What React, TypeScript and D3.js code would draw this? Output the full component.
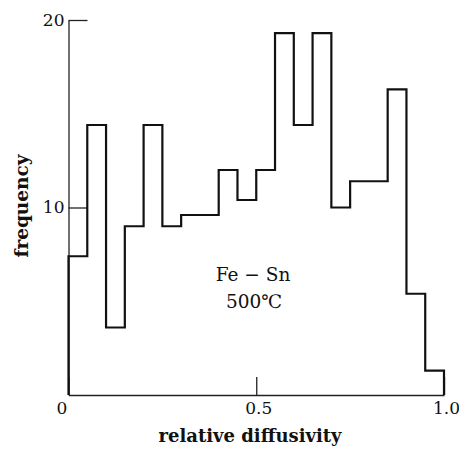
import React, { useEffect, useRef } from "react";
import * as d3 from "d3";

// bin left edges (relative diffusivity), width 0.05
const binStarts = [
  0, 0.05, 0.1, 0.15, 0.2, 0.25, 0.3, 0.35, 0.4, 0.45,
  0.5, 0.55, 0.6, 0.65, 0.7, 0.75, 0.8, 0.85, 0.9, 0.95,
];
const frequency = [
  7.4, 14.4, 3.6, 9.0, 14.4, 9.0, 9.6, 9.6, 12.0, 10.4,
  12.0, 19.3, 14.4, 19.3, 10.0, 11.4, 11.4, 16.3, 5.4, 1.3,
];
const xTicks = [0, 0.5, 1.0];
const xTickLabels = ["0", "0.5", "1.0"];
const yTicks = [10, 20];
const binWidth = 0.05;

const App = () => {
  const svgRef = useRef<SVGSVGElement>(null);

  useEffect(() => {
    const width = 459;
    const height = 450;
    const svg = d3.select(svgRef.current);
    svg.selectAll("*").remove();

    const x = d3.scaleLinear().domain([0, 1]).range([68.5, 444]);
    const y = d3.scaleLinear().domain([0, 20]).range([395, 20]);
    const font = "'DejaVu Serif', 'Liberation Serif', serif";

    // y axis, ticks pointing inward
    const yAxis = svg
      .append("g")
      .attr("transform", `translate(${x(0)},0)`)
      .call(
        d3.axisLeft(y).tickValues(yTicks).tickSize(-19).tickSizeOuter(0).tickPadding(4)
      );
    yAxis.select(".domain").attr("stroke", "#222").attr("stroke-width", 1.3);
    yAxis.selectAll(".tick line").attr("stroke", "#222").attr("stroke-width", 1.3);
    yAxis
      .selectAll(".tick text")
      .attr("font-family", font)
      .attr("font-size", 17)
      .attr("fill", "#111");

    // x axis, ticks pointing up
    const xAxis = svg
      .append("g")
      .attr("transform", `translate(0,${y(0)})`)
      .call(
        d3
          .axisBottom(x)
          .tickValues(xTicks)
          .tickSize(-18)
          .tickSizeOuter(0)
          .tickPadding(7)
          .tickFormat((d, i) => xTickLabels[i])
      );
    xAxis.select(".domain").attr("stroke", "#222").attr("stroke-width", 1.3);
    xAxis.selectAll(".tick line").attr("stroke", "#222").attr("stroke-width", 1.3);
    xAxis
      .selectAll(".tick text")
      .attr("font-family", font)
      .attr("font-size", 17)
      .attr("fill", "#111")
      .attr("dx", (d, i) => (i === 0 ? -7 : 2));

    // histogram outline
    const pts: [number, number][] = [[0, 0]];
    binStarts.forEach((b, i) => pts.push([b, frequency[i]]));
    const last = binStarts.length - 1;
    pts.push([binStarts[last] + binWidth, frequency[last]]);
    pts.push([binStarts[last] + binWidth, 0]);

    const line = d3
      .line<[number, number]>()
      .x((d) => x(d[0]))
      .y((d) => y(d[1]))
      .curve(d3.curveStepAfter);

    svg
      .append("path")
      .attr("d", line(pts))
      .attr("fill", "none")
      .attr("stroke", "#111")
      .attr("stroke-width", 2.2)
      .attr("stroke-linejoin", "miter");

    // annotation
    const ann = svg
      .append("text")
      .attr("font-family", font)
      .attr("font-size", 18.5)
      .attr("fill", "#111")
      .attr("text-anchor", "middle");
    ann.append("tspan").attr("x", 253).attr("y", 281).text("Fe − Sn");
    ann.append("tspan").attr("x", 254).attr("y", 308).text("500℃");

    // axis titles
    svg
      .append("text")
      .attr("x", 250)
      .attr("y", 442)
      .attr("text-anchor", "middle")
      .attr("font-family", font)
      .attr("font-size", 18)
      .attr("font-weight", 600)
      .attr("fill", "#111")
      .text("relative diffusivity");

    svg
      .append("text")
      .attr("transform", `translate(28,206) rotate(-90)`)
      .attr("text-anchor", "middle")
      .attr("font-family", font)
      .attr("font-size", 18.5)
      .attr("font-weight", 600)
      .attr("fill", "#111")
      .text("frequency");

    svg.attr("width", width).attr("height", height);
  }, []);

  return (
    <div style={{ position: "absolute", left: 0, top: 0, background: "#fff" }}>
      <svg ref={svgRef} width={459} height={450} style={{ display: "block" }}></svg>
    </div>
  );
};

export default App;
